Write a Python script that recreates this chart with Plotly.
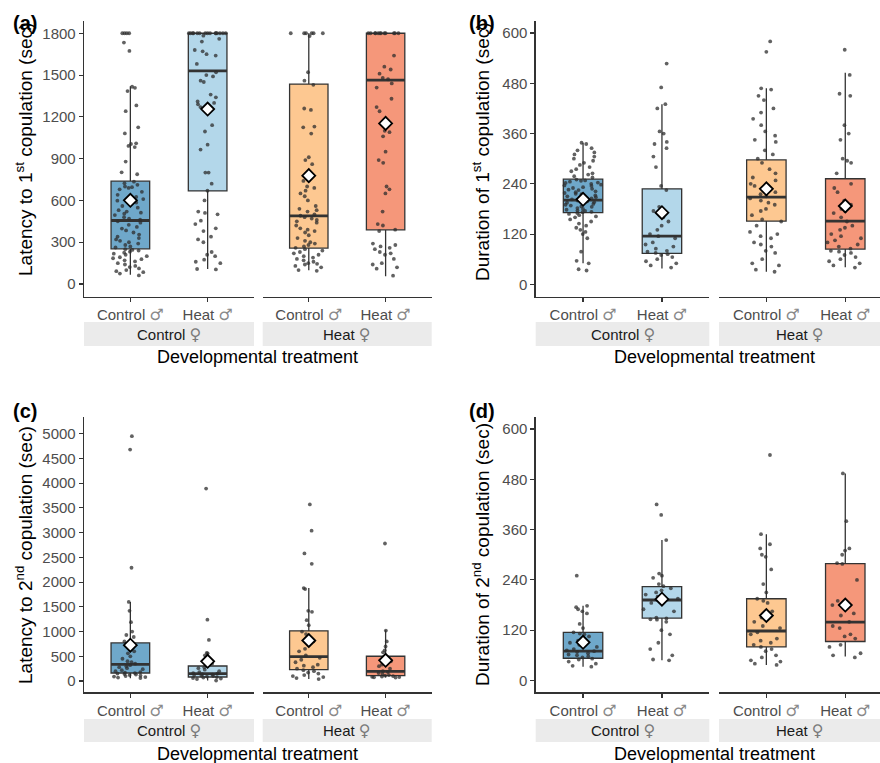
import plotly.graph_objects as go

W, H = 880, 763

# ---------------- DATA ----------------
male_sym = "♂"
female_sym = "♀"
male_names = ["Control", "Heat"]
female_names = ["Control", "Heat"]
group_colors = ["#6FA8CA", "#B3D7EA", "#FDC891", "#F5977A"]  # CC, CH, HC, HH

# (a) Latency to 1st copulation
a_cc = [1800, 1800, 1800, 1800, 1733, 1673, 1416, 1408, 1385, 1282, 1241, 1125, 1081, 1010, 1005, 991, 983, 879, 802, 788,
        735, 724, 712, 700, 695, 690, 680, 662, 640, 625, 610, 598, 585, 570, 560, 548, 530, 520, 512, 505, 495, 480, 470,
        462, 450, 440, 425, 410, 398, 385, 370, 355, 340, 330, 320, 310, 300, 290, 280, 270, 262,
        250, 245, 240, 232, 225, 218, 210, 200, 192, 185, 178, 170, 162, 150, 140, 130, 122, 112, 100, 92, 85, 75, 62]
a_ch = [1800, 1800, 1800, 1800, 1800, 1800, 1800, 1800, 1800, 1800, 1800, 1800, 1800, 1800, 1800, 1783, 1760, 1740, 1680,
        1670, 1650, 1640, 1580, 1520, 1500, 1490, 1460, 1450, 1360, 1340, 1310, 1300, 1290, 1270, 1250, 1140, 1095, 1000,
        965, 800, 800, 720, 670, 600, 520, 510, 500, 455, 430, 400, 380, 340, 320, 300, 230, 210, 200, 175, 160, 150, 108, 105]
a_hc = [1800, 1800, 1800, 1800, 1800, 1800, 1780, 1520, 1460, 1430, 1260, 1250, 1130, 1125, 1080, 910, 890, 860, 740, 700,
        690, 670, 650, 630, 600, 560, 540, 530, 520, 500, 490, 480, 470, 460, 450, 440, 420, 400, 390, 380, 370, 350, 330,
        310, 300, 290, 280, 270, 260, 250, 240, 230, 220, 210, 200, 190, 180, 170, 160, 150, 145, 140, 130, 120, 100, 95]
a_hh = [1800, 1800, 1800, 1800, 1800, 1800, 1800, 1800, 1800, 1800, 1800, 1800, 1640, 1560, 1540, 1510, 1480, 1470, 1440,
        1410, 1330, 1270, 1240, 1100, 1090, 1060, 950, 890, 870, 700, 680, 650, 520, 430, 420, 390, 380, 290, 280, 270, 260,
        250, 230, 220, 210, 180, 150, 140, 120, 110, 60]
a_q1 = [253, 668, 258, 389]
a_med = [456, 1530, 489, 1463]
a_q3 = [738, 1800, 1435, 1800]
a_lo = [67, 107, 98, 55]
a_hi = [1420, 1800, 1800, 1800]
a_mean = [601, 1256, 778, 1153]
a_yticks = [0, 300, 600, 900, 1200, 1500, 1800]

# (b) Duration of 1st copulation
b_cc = [338, 335, 325, 320, 315, 310, 305, 300, 295, 290, 285, 280, 275, 270, 265, 262, 258, 255,
        250, 248, 247, 245, 243, 242, 240, 238, 236, 235, 232, 230, 228, 226, 225, 222, 220, 218, 216, 215, 212, 210,
        208, 206, 205, 203, 200, 198, 196, 195, 192, 190, 188, 186, 185, 182, 180, 178, 176, 175, 173, 172,
        170, 168, 165, 162, 160, 155, 150, 145, 140, 135, 130, 125, 120, 110, 78, 56, 50, 36, 33]
b_ch = [527, 470, 430, 420, 365, 360, 340, 335, 325, 305, 280, 235, 225, 185, 180, 175, 170, 160, 150, 140, 130, 120, 115,
        110, 100, 95, 90, 85, 80, 78, 75, 72, 70, 65, 60, 55, 50, 45, 40]
b_hc = [580, 555, 468, 465, 450, 440, 420, 410, 395, 380, 365, 355, 345, 340, 320, 310, 300, 290, 275, 265, 255, 248, 240,
        235, 225, 220, 215, 210, 205, 200, 195, 190, 180, 175, 165, 155, 150, 140, 125, 120, 115, 110, 100, 95, 90, 80, 75,
        60, 50, 45, 35, 30]
b_hh = [560, 500, 455, 450, 380, 360, 345, 300, 295, 290, 265, 240, 230, 220, 200, 190, 180, 175, 170, 160, 150, 140, 135,
        130, 120, 115, 110, 105, 100, 95, 90, 85, 80, 78, 75, 70, 65, 60, 55, 50, 45, 40]
b_q1 = [171, 74, 151, 84]
b_med = [201, 115, 208, 151]
b_q3 = [251, 228, 297, 252]
b_lo = [50, 38, 30, 41]
b_hi = [338, 430, 468, 505]
b_mean = [203, 171, 228, 187]
b_yticks = [0, 120, 240, 360, 480, 600]

# (c) Latency to 2nd copulation
c_cc = [4950, 4680, 2290, 1600, 1420, 1190, 1000, 930, 890, 800, 720, 650, 600, 560, 500, 450, 400, 380, 350, 320, 300,
        280, 260, 240, 220, 200, 180, 170, 160, 150, 140, 130, 120, 110, 100, 90, 80, 70, 60]
c_ch = [3890, 1240, 830, 570, 560, 520, 470, 420, 350, 300, 280, 260, 230, 200, 180, 160, 150, 140, 130, 120, 110, 100,
        90, 80, 70, 60, 50, 40, 10]
c_hc = [3570, 3040, 2580, 2370, 1880, 1860, 1420, 1400, 1230, 1130, 1000, 950, 880, 800, 720, 650, 600, 520, 470, 430,
        380, 330, 310, 280, 250, 220, 200, 170, 150, 120, 100, 80, 60, 40]
c_hh = [2780, 1020, 800, 700, 620, 580, 430, 400, 330, 300, 250, 200, 180, 160, 140, 120, 110, 100, 90, 85, 80, 75, 70]
c_q1 = [162, 81, 230, 108]
c_med = [338, 149, 494, 196]
c_q3 = [771, 304, 1015, 501]
c_lo = [55, 10, 40, 70]
c_hi = [1597, 570, 1881, 1028]
c_mean = [724, 399, 819, 419]
c_yticks = [0, 500, 1000, 1500, 2000, 2500, 3000, 3500, 4000, 4500, 5000]

# (d) Duration of 2nd copulation
d_cc = [250, 178, 175, 170, 165, 160, 135, 125, 115, 112, 110, 105, 100, 95, 90, 85, 80, 75, 72, 70, 68, 65, 62, 60, 58,
        55, 52, 50, 45, 40, 35, 33]
d_ch = [420, 395, 335, 255, 250, 245, 230, 225, 220, 215, 210, 205, 200, 195, 185, 170, 165, 150, 148, 146, 145, 140, 120,
        110, 90, 75, 60, 50, 48]
d_hc = [538, 349, 325, 315, 300, 295, 265, 230, 210, 195, 190, 185, 165, 160, 150, 140, 130, 125, 115, 110, 100, 95, 90,
        85, 80, 75, 70, 60, 55, 48, 45, 40, 37]
d_hh = [494, 380, 315, 310, 300, 280, 278, 240, 190, 180, 160, 155, 140, 130, 125, 110, 105, 100, 85, 80, 65, 60, 55]
d_q1 = [53, 149, 80, 93]
d_med = [70, 192, 118, 139]
d_q3 = [115, 224, 195, 279]
d_lo = [33, 48, 37, 57]
d_hi = [178, 335, 349, 494]
d_mean = [91, 194, 155, 180]
d_yticks = [0, 120, 240, 360, 480, 600]

# ---------------- LAYOUT GEOMETRY (pixels) ----------------
FONT = "Liberation Sans, Arial, DejaVu Sans, sans-serif"
SYM_FONT = "DejaVu Sans"
TICK_COLOR = "#4D4D4D"
LINE_COLOR = "#333333"


def with_symbol(name, sym, color):
    return f"{name} <span style='font-family:{SYM_FONT};font-size:16px;color:{color}'>{sym}</span>"


male_labels = [with_symbol(n, male_sym, "#8A8A8A") for n in male_names]
female_labels = [with_symbol(n, female_sym, "#7A7A7A") for n in female_names]

col_facets = [[(84, 254), (262.7, 431.7)], [(535.7, 709.3), (719, 880)]]
col_xranges = [[[0.4, 2.6], [0.4, 2.6]], [[0.4, 2.6], [0.4, 2.44]]]
row_y = [(21, 296.7), (417.3, 692.3)]
row_strip = [(322, 346), (719, 742)]
row_xtitle = [357, 754]
col_xtitle = [257.9, 714]
col_ytitle = [24, 481]
col_label = [11, 467]
row_label = [23, 411]


def px(x):
    return x / W


def py(y):
    return 1 - y / H


panels = [
    dict(lab="(a)", pts=[a_cc, a_ch, a_hc, a_hh], q1=a_q1, med=a_med, q3=a_q3, lo=a_lo, hi=a_hi, mean=a_mean,
         yticks=a_yticks, yrange=[-91, 1888], row=0, col=0, ytc=150,
         title="Latency to 1<sup>st</sup> copulation (sec)"),
    dict(lab="(b)", pts=[b_cc, b_ch, b_hc, b_hh], q1=b_q1, med=b_med, q3=b_q3, lo=b_lo, hi=b_hi, mean=b_mean,
         yticks=b_yticks, yrange=[-29.6, 628.7], row=0, col=1, ytc=152,
         title="Duration of 1<sup>st</sup> copulation (sec)"),
    dict(lab="(c)", pts=[c_cc, c_ch, c_hc, c_hh], q1=c_q1, med=c_med, q3=c_q3, lo=c_lo, hi=c_hi, mean=c_mean,
         yticks=c_yticks, yrange=[-228, 5332], row=1, col=0, ytc=555,
         title="Latency to 2<sup>nd</sup> copulation (sec)"),
    dict(lab="(d)", pts=[d_cc, d_ch, d_hc, d_hh], q1=d_q1, med=d_med, q3=d_q3, lo=d_lo, hi=d_hi, mean=d_mean,
         yticks=d_yticks, yrange=[-28.2, 627.9], row=1, col=1, ytc=555,
         title="Duration of 2<sup>nd</sup> copulation (sec)"),
]

fig = go.Figure()
layout = dict(width=W, height=H, margin=dict(l=0, r=0, t=0, b=0), paper_bgcolor="white", plot_bgcolor="white",
              showlegend=False, boxmode="overlay", font=dict(family=FONT, color="black"))
shapes = []
annotations = []

xi = 0
for pi, p in enumerate(panels):
    r, c = p["row"], p["col"]
    yname = "y" if pi == 0 else f"y{pi + 1}"
    ykey = "yaxis" if pi == 0 else f"yaxis{pi + 1}"
    y0, y1 = row_y[r]
    first_x = xi + 1
    xref0 = "x" if first_x == 1 else f"x{first_x}"
    layout[ykey] = dict(domain=[py(y1), py(y0)], range=p["yrange"], anchor=xref0, tickvals=p["yticks"],
                        showline=True, linecolor=LINE_COLOR, linewidth=1.3, ticks="outside", ticklen=4,
                        tickcolor=LINE_COLOR, tickwidth=1.1, tickfont=dict(size=15, color=TICK_COLOR, family=FONT),
                        showgrid=False, zeroline=False, fixedrange=True)
    for f in range(2):
        xi += 1
        xname = "x" if xi == 1 else f"x{xi}"
        xkey = "xaxis" if xi == 1 else f"xaxis{xi}"
        fx0, fx1 = col_facets[c][f]
        layout[xkey] = dict(domain=[px(fx0), px(fx1)], range=col_xranges[c][f], anchor=yname,
                            tickvals=[1, 2], ticktext=male_labels, showline=True, linecolor=LINE_COLOR,
                            linewidth=1.3, ticks="outside", ticklen=4, tickcolor=LINE_COLOR, tickwidth=1.1,
                            tickfont=dict(size=15, color=TICK_COLOR, family=FONT), showgrid=False,
                            zeroline=False, fixedrange=True)
        # strip
        s0, s1 = row_strip[r]
        shapes.append(dict(type="rect", xref="paper", yref="paper", x0=px(fx0), x1=px(fx1),
                           y0=py(s1), y1=py(s0), fillcolor="#EBEBEB", line=dict(width=0), layer="below"))
        annotations.append(dict(xref="paper", yref="paper", x=px((fx0 + fx1) / 2), y=py((s0 + s1) / 2),
                                text=female_labels[f], showarrow=False, xanchor="center", yanchor="middle",
                                font=dict(size=15, color="#1A1A1A", family=FONT)))
        for m in range(2):
            g = f * 2 + m
            pos = m + 1
            common = dict(xaxis=xname, yaxis=yname, hoverinfo="skip", showlegend=False)
            # box body
            fig.add_trace(go.Box(x=[pos], q1=[p["q1"][g]], median=[p["med"][g]], q3=[p["q3"][g]],
                                 lowerfence=[p["lo"][g]], upperfence=[p["hi"][g]], width=0.5,
                                 fillcolor=group_colors[g], line=dict(color=LINE_COLOR, width=1.3),
                                 whiskerwidth=0, boxpoints=False, **common))
            # thick median line
            mv = p["med"][g]
            fig.add_trace(go.Box(x=[pos], q1=[mv], median=[mv], q3=[mv], lowerfence=[mv], upperfence=[mv],
                                 width=0.5, fillcolor="rgba(0,0,0,0)", line=dict(color=LINE_COLOR, width=2.8),
                                 whiskerwidth=0, boxpoints=False, **common))
            # jittered raw points
            vals = p["pts"][g]
            fig.add_trace(go.Box(x=[pos] * len(vals), y=vals, width=0.5, boxpoints="all", jitter=1,
                                 pointpos=0, fillcolor="rgba(0,0,0,0)",
                                 line=dict(color="rgba(0,0,0,0)", width=0),
                                 marker=dict(size=3.8, color="rgba(45,45,45,0.75)", line=dict(width=0)),
                                 **common))
            # mean diamond
            fig.add_trace(go.Scatter(x=[pos], y=[p["mean"][g]], mode="markers",
                                     marker=dict(symbol="diamond", size=10, color="white",
                                                 line=dict(color="black", width=1.8)),
                                     cliponaxis=False, **common))
    # axis titles and panel label
    annotations.append(dict(xref="paper", yref="paper", x=px(col_xtitle[c]), y=py(row_xtitle[r]),
                            text="Developmental treatment", showarrow=False, xanchor="center", yanchor="middle",
                            font=dict(size=18, color="black", family=FONT)))
    annotations.append(dict(xref="paper", yref="paper", x=px(col_ytitle[c]), y=py(p["ytc"]),
                            text=p["title"], textangle=-90, showarrow=False, xanchor="center", yanchor="middle",
                            font=dict(size=19, color="black", family=FONT)))
    annotations.append(dict(xref="paper", yref="paper", x=px(col_label[c]), y=py(row_label[r]),
                            text="<b>" + p["lab"] + "</b>", showarrow=False, xanchor="left", yanchor="middle",
                            font=dict(size=20, color="black", family=FONT)))

layout["shapes"] = shapes
layout["annotations"] = annotations
fig.update_layout(**layout)

fig.write_html("out.html", config={"displayModeBar": False, "staticPlot": True},
               post_script="document.body.style.margin='0px';")
